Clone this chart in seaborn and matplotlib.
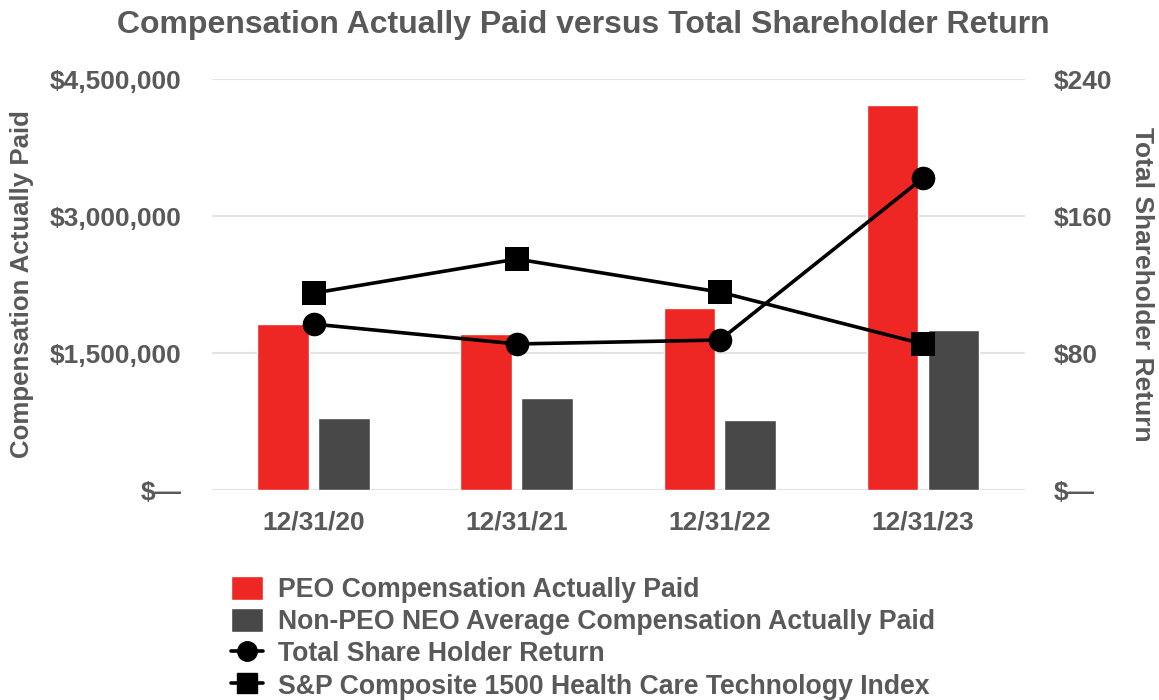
import matplotlib
matplotlib.use("Agg")
import matplotlib.pyplot as plt
import numpy as np
import pandas as pd
import seaborn as sns
from matplotlib.lines import Line2D
from matplotlib.patches import Patch
from matplotlib.ticker import FuncFormatter

years = ["12/31/20", "12/31/21", "12/31/22", "12/31/23"]
peo_cap = [1817000, 1708000, 1993000, 4215000]
non_peo_cap = [788000, 1007000, 766000, 1752000]
tsr = [96.9, 85.3, 87.6, 182.2]
peer_index = [115.0, 134.9, 115.6, 85.3]

peo_label = "PEO Compensation Actually Paid"
neo_label = "Non-PEO NEO Average Compensation Actually Paid"
tsr_label = "Total Share Holder Return"
idx_label = "S&P Composite 1500 Health Care Technology Index"

RED = "#EE2724"
GREY = "#484848"
TEXT = "#595959"
FS = 19

sns.set_theme(style="white")
plt.rcParams["font.family"] = ["Liberation Sans", "DejaVu Sans"]
plt.rcParams["font.weight"] = "bold"

bars = pd.DataFrame({
    "year": years * 2,
    "value": peo_cap + non_peo_cap,
    "series": [peo_label] * 4 + [neo_label] * 4,
})
lines = pd.DataFrame({"year": years, "tsr": tsr, "index": peer_index})

fig = plt.figure(figsize=(11.59, 7), dpi=100)
ax = fig.add_axes([0.183, 0.30, 0.701, 0.587])

sns.barplot(data=bars, x="year", y="value", hue="series", ax=ax,
            palette=[RED, GREY], width=0.6, gap=0.15, saturation=1,
            legend=False, zorder=2)
ax.set_xlim(-0.5, 3.5)
ax.set_ylim(0, 4500000)
ax.set_yticks([0, 1500000, 3000000, 4500000])
ax.yaxis.set_major_formatter(FuncFormatter(
    lambda v, p: "$—" if v == 0 else f"${v:,.0f}"))
ax.grid(axis="y", color="#E3E3E3", linewidth=1.5, zorder=0)
ax.set_axisbelow(True)
for s in ax.spines.values():
    s.set_visible(False)
ax.tick_params(length=0, labelsize=FS, labelcolor=TEXT, pad=22)
ax.tick_params(axis="x", pad=15)
ax.set_xlabel("")
ax.set_ylabel("Compensation Actually Paid", fontsize=18.6, color=TEXT,
              fontweight="bold", labelpad=11)

ax2 = ax.twinx()
sns.lineplot(data=lines, x="year", y="tsr", ax=ax2, color="black",
             linewidth=2.6, marker="o", markersize=17, markeredgewidth=0)
sns.lineplot(data=lines, x="year", y="index", ax=ax2, color="black",
             linewidth=2.6, marker="s", markersize=17, markeredgewidth=0)
ax2.set_xlim(-0.5, 3.5)
ax2.set_ylim(0, 240)
ax2.set_yticks([0, 80, 160, 240])
ax2.yaxis.set_major_formatter(FuncFormatter(
    lambda v, p: "$—" if v == 0 else f"${v:.0f}"))
for s in ax2.spines.values():
    s.set_visible(False)
ax2.tick_params(length=0, labelsize=FS, labelcolor=TEXT, pad=21)
ax2.set_ylabel("Total Shareholder Return", fontsize=FS, color=TEXT,
               fontweight="bold", rotation=270, labelpad=30)
ax2.grid(False)

fig.suptitle("Compensation Actually Paid versus Total Shareholder Return",
             x=0.503, y=0.985, fontsize=23, fontweight="bold", color=TEXT)

handles = [
    Patch(facecolor=RED, label=peo_label),
    Patch(facecolor=GREY, label=neo_label),
    Line2D([], [], color="black", linewidth=2.6, marker="o", markersize=14,
           label=tsr_label),
    Line2D([], [], color="black", linewidth=2.6, marker="s", markersize=14,
           label=idx_label),
]
leg = fig.legend(handles=handles, loc="upper left",
                 bbox_to_anchor=(0.188, 0.196), frameon=False,
                 fontsize=19.2, labelcolor=TEXT, handlelength=1.2,
                 handleheight=1.0, handletextpad=0.55, labelspacing=0.19,
                 borderpad=0)

fig.savefig("out.png", dpi=100)
